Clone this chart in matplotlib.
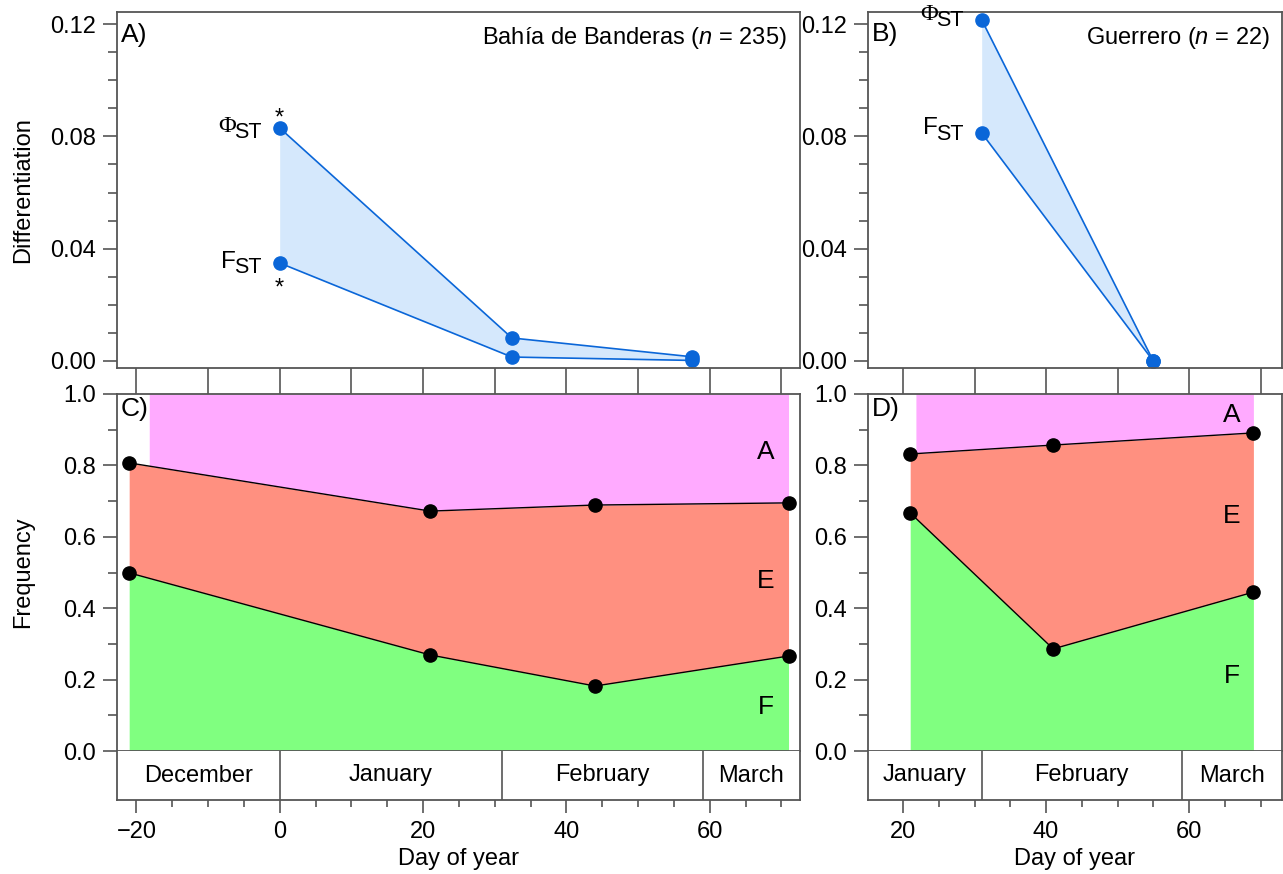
import numpy as np
import matplotlib
matplotlib.use("Agg")
import matplotlib.pyplot as plt
from matplotlib.ticker import MultipleLocator, FormatStrFormatter

plt.rcParams['font.family'] = ['Liberation Sans', 'DejaVu Sans']
plt.rcParams['mathtext.fontset'] = 'custom'
plt.rcParams['mathtext.it'] = 'Liberation Sans:italic'
plt.rcParams['mathtext.rm'] = 'Liberation Sans'

# ---- data -----------------------------------------------------------------
# differentiation, Bahia de Banderas
bb_days = [0, 32.4, 57.5]
bb_phist = [0.083, 0.0082, 0.0015]
bb_fst = [0.0349, 0.0014, 0.0002]
# differentiation, Guerrero
gu_days = [31, 55]
gu_phist = [0.1215, 0.0]
gu_fst = [0.0812, 0.0]

# haplogroup frequencies (cumulative boundaries F | E | A)
bbf_days = [-21, 21, 44, 71]
bb_F = [0.499, 0.269, 0.182, 0.266]
bb_FE = [0.807, 0.672, 0.689, 0.695]
guf_days = [21, 41, 69]
gu_F = [0.667, 0.286, 0.445]
gu_FE = [0.832, 0.857, 0.891]
bb_pink_start = -18.2
gu_pink_start = 21.8

months = ['December', 'January', 'February', 'March']
month_start = [-31, 0, 31, 59]
month_end = [0, 31, 59, 90]

# ---- style ----------------------------------------------------------------
W, H = 1283, 874
FS = 17
SPINE = '#555555'
BLUE = '#0a66d8'
LBLUE = '#d5e8fc'
PINK = '#ffaaff'
SALMON = '#ff9080'
GREEN = '#80ff80'

fig = plt.figure(figsize=(W / 100, H / 100), dpi=100)


def box(l, t, r, b):
    return [l / W, (H - b) / H, (r - l) / W, (b - t) / H]


def style(ax):
    for s in ax.spines.values():
        s.set_color(SPINE)
        s.set_linewidth(1.3)
    ax.tick_params(colors=SPINE, labelcolor='black', labelsize=FS, width=1.2)


def top_panel(ax, xlim, xticks):
    style(ax)
    ax.set_xlim(xlim)
    ax.set_ylim(-0.0025, 0.1243)
    ax.set_xticks(xticks)
    ax.tick_params(axis='x', direction='out', length=18.7, labelbottom=False, width=1.2)
    ax.yaxis.set_major_locator(MultipleLocator(0.04))
    ax.yaxis.set_minor_locator(MultipleLocator(0.01))
    ax.yaxis.set_major_formatter(FormatStrFormatter('%.2f'))
    ax.tick_params(axis='y', which='major', length=10, pad=5)
    ax.tick_params(axis='y', which='minor', length=6.5, colors=SPINE, width=1.2)


def freq_panel(ax, xlim):
    style(ax)
    ax.set_xlim(xlim)
    ax.set_ylim(0, 1)
    ax.set_xticks([])
    ax.yaxis.set_major_locator(MultipleLocator(0.2))
    ax.yaxis.set_minor_locator(MultipleLocator(0.1))
    ax.yaxis.set_major_formatter(FormatStrFormatter('%.1f'))
    ax.tick_params(axis='y', which='major', length=10, pad=5)
    ax.tick_params(axis='y', which='minor', length=6.5, colors=SPINE, width=1.2)


def month_strip(ax, xlim):
    style(ax)
    ax.set_xlim(xlim)
    ax.set_ylim(0, 1)
    ax.set_yticks([])
    ax.spines['top'].set_visible(False)
    ax.xaxis.set_major_locator(MultipleLocator(20))
    ax.xaxis.set_minor_locator(MultipleLocator(5))
    ax.tick_params(axis='x', which='major', length=9.4, pad=6)
    ax.tick_params(axis='x', which='minor', length=5, colors=SPINE, width=1.2)
    for name, s, e in zip(months, month_start, month_end):
        lo, hi = max(s, xlim[0]), min(e, xlim[1])
        if hi <= lo:
            continue
        if s > xlim[0]:
            ax.axvline(s, color=SPINE, lw=1.2)
        ax.text((lo + hi) / 2, 0.5, name, ha='center', va='center', fontsize=FS)
    ax.set_xlabel('Day of year', fontsize=FS, labelpad=3)


def st_label(ax, x, y, sym, dx, dy, serif):
    ax.annotate('ST', (x, y), xytext=(dx, dy - 5), textcoords='offset pixels',
                ha='right', va='center', fontsize=15.5)
    ax.annotate(sym, (x, y), xytext=(dx - 26, dy + 1), textcoords='offset pixels',
                ha='right', va='center', fontsize=17.5,
                family='Liberation Serif' if serif else 'Liberation Sans')


def draw_fst(ax, days, phi, fst):
    ax.fill_between(days, fst, phi, color=LBLUE, lw=0)
    ax.plot(days, phi, color=BLUE, lw=1.2, marker='o', ms=9.5, mec=BLUE, mfc=BLUE)
    ax.plot(days, fst, color=BLUE, lw=1.2, marker='o', ms=9.5, mec=BLUE, mfc=BLUE)


def draw_freq(ax, days, lower, upper, pink_start):
    days = np.asarray(days, float)
    ax.fill_between(days, 0, lower, color=GREEN, lw=0)
    ax.fill_between(days, lower, upper, color=SALMON, lw=0)
    px = np.concatenate([[pink_start], days[days > pink_start]])
    ax.fill_between(px, np.interp(px, days, upper), 1, color=PINK, lw=0)
    ax.plot(days, upper, color='black', lw=1, marker='o', ms=9.5)
    ax.plot(days, lower, color='black', lw=1, marker='o', ms=9.5)


def corner(ax, label, dy):
    ax.annotate(label, (0, 1), xycoords='axes fraction', xytext=(4, dy),
                textcoords='offset pixels', ha='left', va='top', fontsize=19)


# ---- panels ---------------------------------------------------------------
xl_bb = (-22.7, 72.6)
xl_gu = (15.1, 73.0)

axA = fig.add_axes(box(117, 12, 800, 368))
top_panel(axA, xl_bb, np.arange(-20, 71, 10))
draw_fst(axA, bb_days, bb_phist, bb_fst)
st_label(axA, bb_days[0], bb_phist[0], 'Φ', -18, 0, True)
st_label(axA, bb_days[0], bb_fst[0], 'F', -18, 0, False)
axA.annotate('*', (bb_days[0], bb_phist[0]), xytext=(0, 9), textcoords='offset pixels',
             ha='center', va='center', fontsize=17)
axA.annotate('*', (bb_days[0], bb_fst[0]), xytext=(0, -26), textcoords='offset pixels',
             ha='center', va='center', fontsize=17)
corner(axA, 'A)', -11)
axA.text(0.98, 0.927, 'Bahía de Banderas ($n$ = 235)', transform=axA.transAxes,
         ha='right', va='center', fontsize=FS)
axA.set_ylabel('Differentiation', fontsize=FS)
axA.yaxis.set_label_coords(-0.121, 0.5)

axB = fig.add_axes(box(868, 12, 1282, 368))
top_panel(axB, xl_gu, np.arange(20, 71, 10))
draw_fst(axB, gu_days, gu_phist, gu_fst)
st_label(axB, gu_days[0], gu_phist[0], 'Φ', -18, 4, True)
st_label(axB, gu_days[0], gu_fst[0], 'F', -18, 4, False)
corner(axB, 'B)', -10)
axB.text(0.97, 0.927, 'Guerrero ($n$ = 22)', transform=axB.transAxes,
         ha='right', va='center', fontsize=FS)

axC = fig.add_axes(box(117, 394, 800, 751))
freq_panel(axC, xl_bb)
draw_freq(axC, bbf_days, bb_F, bb_FE, bb_pink_start)
corner(axC, 'C)', -3)
for lab, yy in zip(['A', 'E', 'F'], [0.837, 0.476, 0.123]):
    axC.text(67.8, yy, lab, ha='center', va='center', fontsize=19)
axC.set_ylabel('Frequency', fontsize=FS)
axC.yaxis.set_label_coords(-0.121, 0.5)

axD = fig.add_axes(box(868, 394, 1282, 751))
freq_panel(axD, xl_gu)
draw_freq(axD, guf_days, gu_F, gu_FE, gu_pink_start)
corner(axD, 'D)', -3)
for lab, yy in zip(['A', 'E', 'F'], [0.941, 0.658, 0.21]):
    axD.text(66, yy, lab, ha='center', va='center', fontsize=19)

axCm = fig.add_axes(box(117, 751, 800, 800))
month_strip(axCm, xl_bb)
axDm = fig.add_axes(box(868, 751, 1282, 800))
month_strip(axDm, xl_gu)

fig.savefig('out.png', dpi=100)
